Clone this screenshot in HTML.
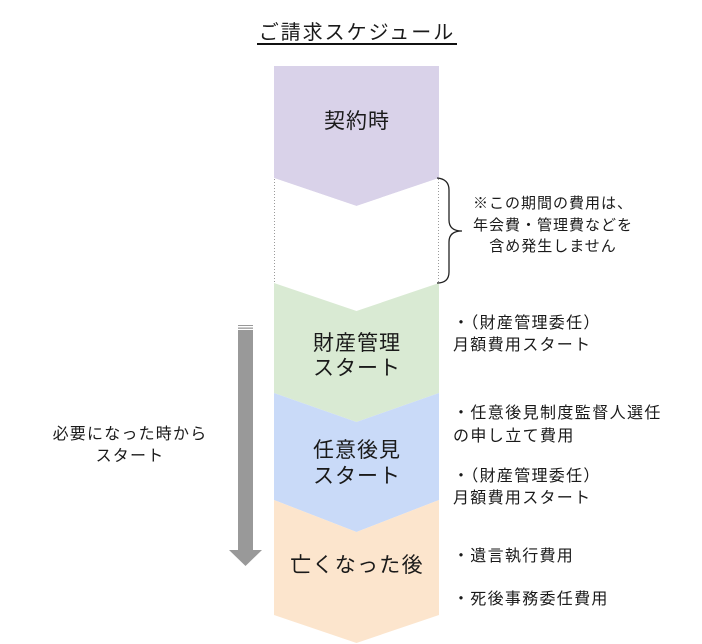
<!DOCTYPE html>
<html>
<head>
<meta charset="utf-8">
<style>
  html,body{margin:0;padding:0;background:#fff;}
  #c{position:relative;width:702px;height:644px;overflow:hidden;background:#fff;
     font-family:"Liberation Sans","Noto Sans CJK JP",sans-serif;color:#1a1a1a;}
  svg{position:absolute;left:0;top:0;}
  .t{position:absolute;white-space:nowrap;}
  .ctr{text-align:center;width:400px;}
</style>
</head>
<body>
<div id="c">
<svg width="702" height="644" viewBox="0 0 702 644">
  <!-- purple -->
  <polygon points="274,66 439,66 439,178 356.5,206 274,178" fill="#d9d2e9"/>
  <!-- white -->
  <polygon points="274,178 356.5,206 439,178 439,283 356.5,311 274,283" fill="#ffffff"/>
  <line x1="274.5" y1="179" x2="274.5" y2="284" stroke="#9a9a9a" stroke-width="1" stroke-dasharray="1,2"/>
  <line x1="438.5" y1="179" x2="438.5" y2="284" stroke="#9a9a9a" stroke-width="1" stroke-dasharray="1,2"/>
  <!-- green -->
  <polygon points="274,283 356.5,311 439,283 439,393 356.5,422 274,393" fill="#d9ead3"/>
  <!-- blue -->
  <polygon points="274,393 356.5,422 439,393 439,500 356.5,532 274,500" fill="#c9daf8"/>
  <!-- orange -->
  <polygon points="274,500 356.5,532 439,500 439,615 356.5,643 274,615" fill="#fce5cd"/>
  <!-- arrow -->
  <rect x="238" y="325" width="15" height="1" fill="#999"/>
  <rect x="238" y="327.5" width="15" height="1.3" fill="#999"/>
  <rect x="238" y="330" width="15" height="221" fill="#999"/>
  <polygon points="229,550 262,550 245.5,566" fill="#999"/>
  <!-- brace -->
  <path d="M437,178 Q449,179 449,190 L449,220 Q449,231 462,231 Q449,231 449,242 L449,272 Q449,283 437,283" fill="none" stroke="#222" stroke-width="1.3"/>
  <!-- title underline -->
  <line x1="257" y1="44" x2="457" y2="44" stroke="#111" stroke-width="2"/>
</svg>

<!-- title -->
<div class="t ctr" style="left:157px;top:21px;font-size:20px;line-height:24px;letter-spacing:2px;">ご請求スケジュール</div>

<!-- chevron labels -->
<div class="t ctr" style="left:157px;top:109px;font-size:21px;line-height:26px;letter-spacing:1px;">契約時</div>
<div class="t ctr" style="left:157px;top:331px;font-size:21px;line-height:25px;letter-spacing:1px;">財産管理<br>スタート</div>
<div class="t ctr" style="left:157px;top:438px;font-size:21px;line-height:26px;letter-spacing:1px;">任意後見<br>スタート</div>
<div class="t ctr" style="left:157px;top:553px;font-size:21px;line-height:26px;letter-spacing:1.3px;">亡くなった後</div>

<!-- brace note -->
<div class="t ctr" style="left:353px;top:193px;font-size:15px;line-height:21.5px;letter-spacing:1px;">※この期間の費用は、<br>年会費・管理費などを<br>含め発生しません</div>

<!-- left text -->
<div class="t ctr" style="left:-70px;top:424px;font-size:16px;line-height:22px;letter-spacing:1.2px;">必要になった時から<br>スタート</div>

<!-- right texts -->
<div class="t" style="left:453px;top:313px;font-size:16px;line-height:22px;letter-spacing:1.3px;">・（財産管理委任）<br>月額費用スタート</div>
<div class="t" style="left:453px;top:402px;font-size:16px;line-height:23px;letter-spacing:1.4px;">・任意後見制度監督人選任<br>の申し立て費用</div>
<div class="t" style="left:453px;top:466px;font-size:16px;line-height:22px;letter-spacing:1.3px;">・（財産管理委任）<br>月額費用スタート</div>
<div class="t" style="left:453px;top:546px;font-size:16px;line-height:22px;letter-spacing:1.3px;">・遺言執行費用</div>
<div class="t" style="left:453px;top:589px;font-size:16px;line-height:22px;letter-spacing:1.3px;">・死後事務委任費用</div>
</div>
</body>
</html>
